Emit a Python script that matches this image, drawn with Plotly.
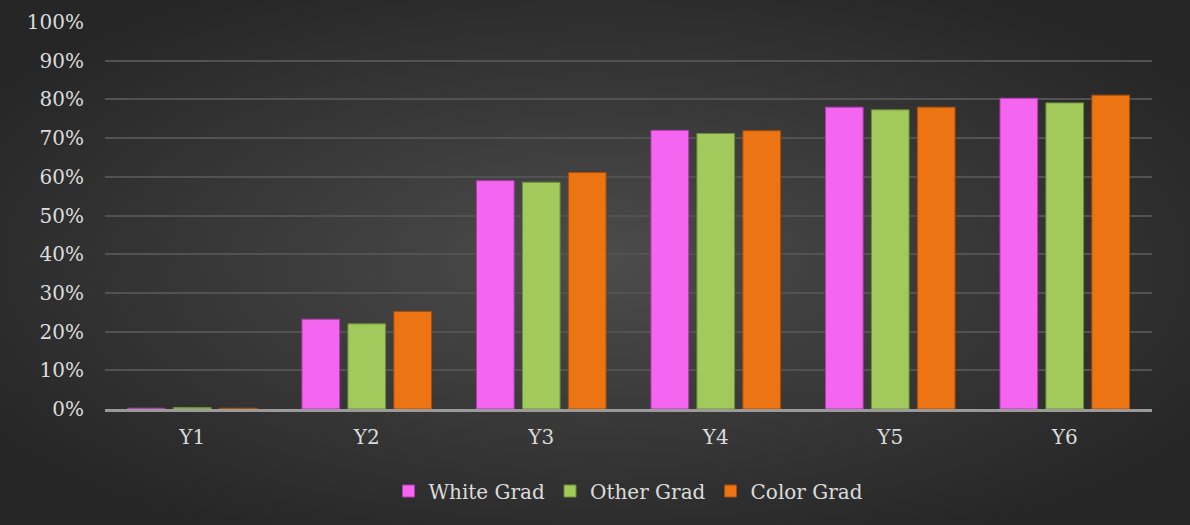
import plotly.graph_objects as go
import base64

categories = ["Y1", "Y2", "Y3", "Y4", "Y5", "Y6"]
white_grad = [0.002, 0.232, 0.590, 0.720, 0.780, 0.803]
other_grad = [0.004, 0.220, 0.586, 0.712, 0.773, 0.791]
color_grad = [0.002, 0.252, 0.611, 0.719, 0.780, 0.811]
y_ticks = [i / 10 for i in range(11)]
y_tick_labels = [f"{i*10}%" for i in range(11)]

series = [
    ("White Grad", white_grad, "#f466f0", "#b03aae"),
    ("Other Grad", other_grad, "#a2c95c", "#6c8c34"),
    ("Color Grad", color_grad, "#ed7413", "#a84d08"),
]

FONT = "DejaVu Serif"
TXT = "#dcdcdc"
FS = 20

fig = go.Figure()
for name, vals, col, edge in series:
    fig.add_trace(go.Bar(
        x=categories, y=vals, name=name,
        marker=dict(color=col, line=dict(color=edge, width=1)),
    ))

svg = """<svg xmlns='http://www.w3.org/2000/svg' width='1190' height='525'>
<defs><radialGradient id='g' cx='50%' cy='50%' r='60%'>
<stop offset='0%' stop-color='#4c4c4c'/><stop offset='100%' stop-color='#262626'/>
</radialGradient></defs>
<rect width='1190' height='525' fill='url(#g)'/></svg>"""
src = "data:image/svg+xml;base64," + base64.b64encode(svg.encode()).decode()

fig.update_layout(
    width=1190, height=525,
    margin=dict(l=105, r=38, t=22, b=116, autoexpand=False),
    paper_bgcolor="#2a2a2a",
    plot_bgcolor="rgba(0,0,0,0)",
    barmode="group", bargap=0.21, bargroupgap=0.18,
    font=dict(family=FONT, size=FS, color=TXT),
    images=[dict(source=src, xref="paper", yref="paper", x=-105/1047, y=1 + 22/387,
                 sizex=1190/1047, sizey=525/387, sizing="stretch", layer="below",
                 xanchor="left", yanchor="top")],
    legend=dict(orientation="h", x=0.5, xanchor="center",
                yref="container", y=(525 - 491) / 525, yanchor="middle",
                font=dict(family=FONT, size=FS, color=TXT), itemwidth=30,
                bgcolor="rgba(0,0,0,0)"),
    showlegend=True,
)
fig.update_yaxes(range=[0, 1], tickvals=y_ticks, ticktext=y_tick_labels,
                 showgrid=True, gridcolor="#525252", gridwidth=1.5,
                 zeroline=False, showline=False, ticks="", ticklabelstandoff=20,
                 tickfont=dict(family=FONT, size=FS, color=TXT))
fig.update_xaxes(showline=True, linecolor="#9a9a9a", linewidth=2.5, ticks="",
                 tickfont=dict(family=FONT, size=FS, color=TXT), ticklabelstandoff=8)

fig.write_html("out.html", config={"displayModeBar": False},
               post_script="document.body.style.margin='0';document.body.style.background='#2a2a2a';")
